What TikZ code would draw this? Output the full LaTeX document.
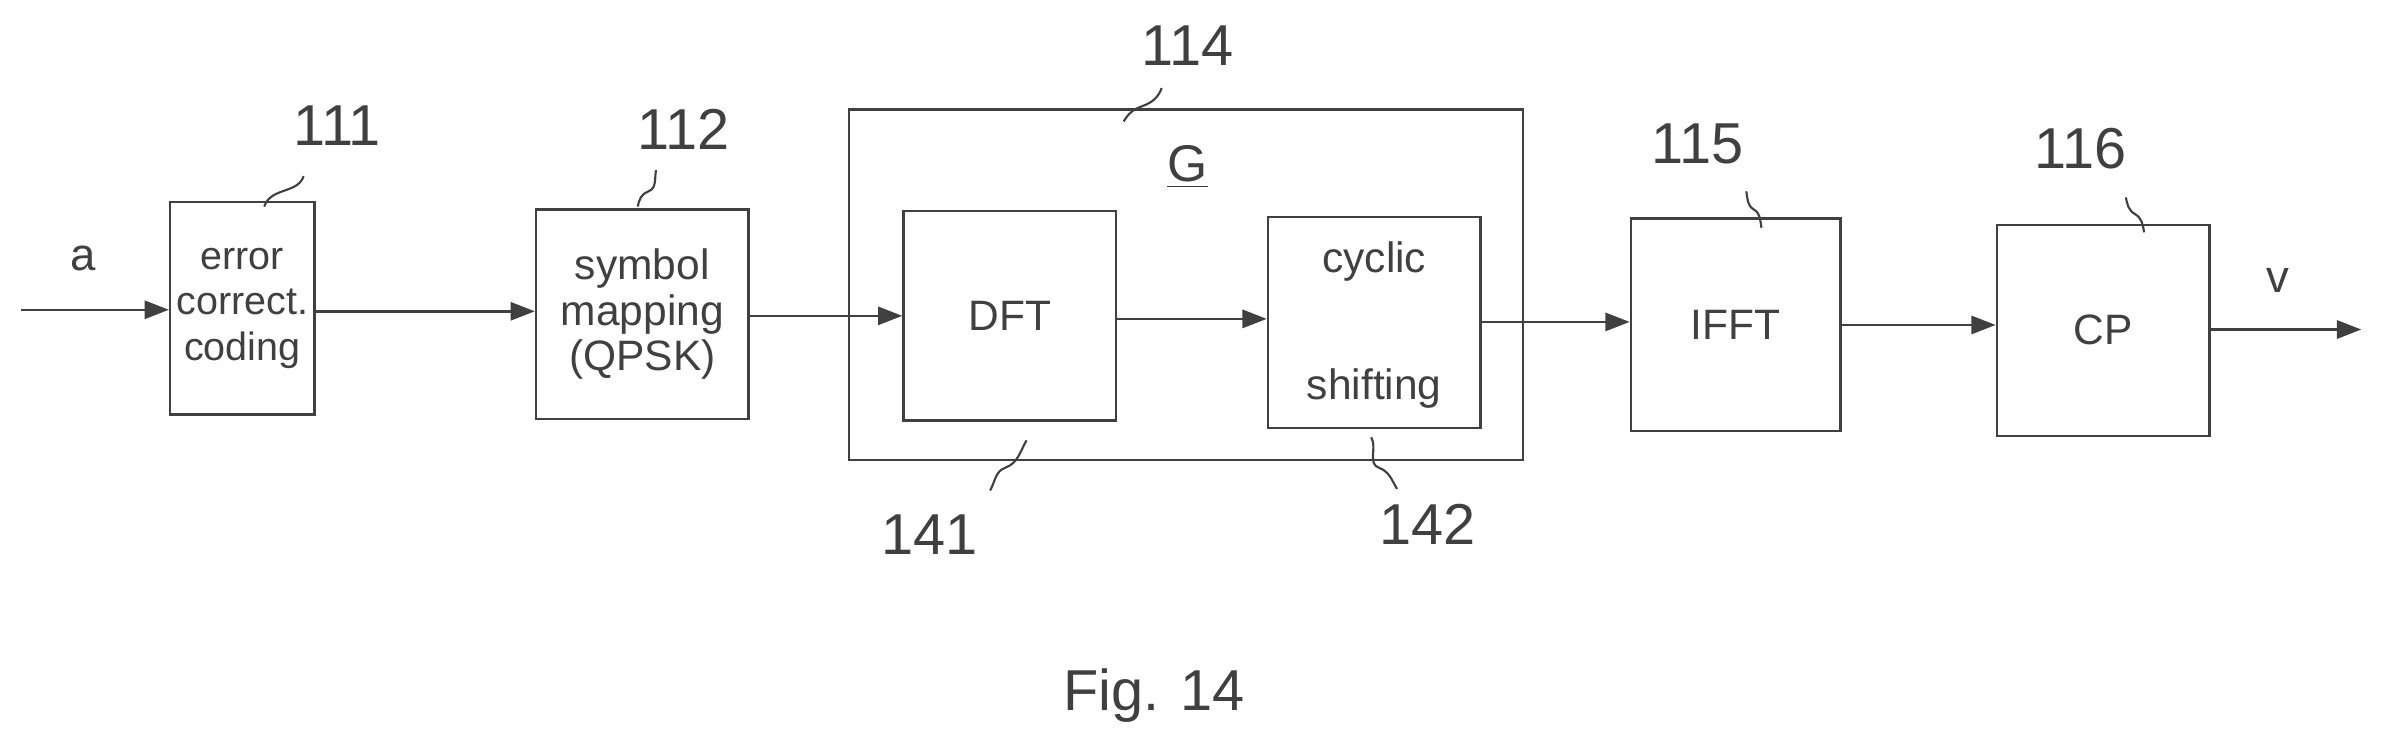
\documentclass[tikz,border=0pt]{standalone}
\usepackage{fontspec}
\setmainfont{Liberation Sans}
\usetikzlibrary{arrows.meta}
\definecolor{ink}{gray}{0.25}
\begin{document}
\begin{tikzpicture}[x=0.5pt,y=-0.5pt,
  blk/.style={draw=ink,line width=0.8pt,inner sep=0pt},
  txt/.style={font=\fontsize{14}{15}\selectfont,text=ink,align=center},
  num/.style={font=\fontsize{19}{20}\selectfont,text=ink},
  arr/.style={draw=ink,line width=0.8pt,-{Triangle[length=8pt,width=6pt]}},
  sq/.style={draw=ink,line width=0.7pt}]
\useasboundingbox (0,0) rectangle (1568,493);
% boxes
\node[blk,minimum width=47.5pt,minimum height=70pt] (b111) at (159.5,203) {};
\node[txt,font=\fontsize{13}{15}\selectfont] at (b111) {error\\correct.\\coding};
\node[blk,minimum width=70pt,minimum height=69pt] (b112) at (423,207) {};
\node[txt] at (b112) {symbol\\mapping\\(QPSK)};
\node[blk,minimum width=222pt,minimum height=115.5pt] (b114) at (781,187.5) {};
\node[blk,minimum width=70pt,minimum height=69pt] (b141) at (665,208) {};
\node[txt] at (b141) {DFT};
\node[blk,minimum width=70pt,minimum height=69.5pt] (b142) at (905,212.5) {};
\node[txt] at (905,172) {cyclic};
\node[txt] at (905,256) {shifting};
\node[blk,minimum width=69pt,minimum height=70pt] (b115) at (1143,214) {};
\node[txt] at (b115) {IFFT};
\node[blk,minimum width=70pt,minimum height=69.5pt] (b116) at (1385,217.5) {};
\node[txt] at (b116) {CP};
% G
\node[num,font=\fontsize{17}{18}\selectfont] (g) at (782,110) {\underline{G}};
% io
\coordinate (in) at (14,204);
\coordinate (out) at (1555,217);
\node[num,font=\fontsize{15}{16}\selectfont] (la) at (55,170) {a};
\node[num,font=\fontsize{15}{16}\selectfont] (lv) at (1500,185) {v};
% arrows
\draw[arr] (in) -- (b111.west |- in);
\draw[arr] (b111.east |- 0,205) -- (b112.west |- 0,205);
\draw[arr] (b112.east |- 0,208) -- (b141.west |- 0,208);
\draw[arr] (b141.east |- 0,210) -- (b142.west |- 0,210);
\draw[arr] (b142.east |- 0,212) -- (b115.west |- 0,212);
\draw[arr] (b115.east |- 0,214) -- (b116.west |- 0,214);
\draw[arr] (b116.east |- out) -- (out);
% numbers
\node[num] (n111) at (222,83) {111};
\node[num] (n112) at (450,85) {112};
\node[num] (n114) at (782,30) {114};
\node[num] (n115) at (1118,95) {115};
\node[num] (n116) at (1370,98) {116};
\node[num] (n141) at (612,352) {141};
\node[num] (n142) at (940,345) {142};
% squiggles
\draw[sq] (174,136) to[out=70,in=200] (186,126) to[out=20,in=-110] (200,116);
\draw[sq] (420,136) to[out=80,in=200] (427,126) to[out=20,in=-100] (432,112);
\draw[sq] (740,80) to[out=60,in=200] (752,70) to[out=20,in=-110] (765,58);
\draw[sq] (1150,126) to[out=-80,in=150] (1155,138) to[out=-30,in=100] (1160,150);
\draw[sq] (1400,130) to[out=-80,in=150] (1406,141) to[out=-30,in=100] (1412,153);
\draw[sq] (652,323) to[out=60,in=200] (662,308) to[out=20,in=-120] (676,290);
\draw[sq] (920,322) to[out=120,in=-20] (908,308) to[out=160,in=-60] (903,288);
% caption
\node[num,font=\fontsize{19}{20}\selectfont] (cap) at (760,458) {Fig. 14};
\end{tikzpicture}
\end{document}
